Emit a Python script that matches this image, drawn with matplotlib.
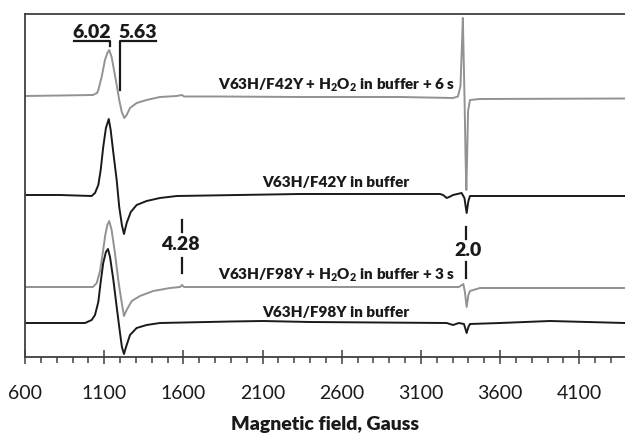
import matplotlib
matplotlib.use("Agg")
import matplotlib.pyplot as plt
from matplotlib.ticker import MultipleLocator

plt.rcParams["font.family"] = ["Lato", "DejaVu Sans"]
plt.rcParams["mathtext.fontset"] = "custom"
plt.rcParams["mathtext.rm"] = "Lato"
plt.rcParams["mathtext.bf"] = "Lato:heavy"

# field (Gauss) and signal above each trace's own baseline (arbitrary units)
f42y_h2o2_field = [600, 821, 1029, 1055, 1063, 1084, 1105, 1120, 1132, 1147, 1162, 1179, 1195,
                   1211, 1227, 1242, 1263, 1305, 1368, 1452, 1558, 1591, 1604, 1831, 2336, 2968,
                   3303, 3334, 3350, 3358, 3365, 3370, 3376, 3382, 3387, 3392, 3398, 3410, 3473, 4389]
f42y_h2o2_signal = [0, 0.5, 1, 3, 6, 19, 36, 43, 46, 39, 26, 11, -4,
                    -16, -22, -19, -12, -7, -4, -1, 0, 1, -0.5, -0.5, -1, -1,
                    -2, -0.5, 10, 45, 78, 40, -5, -60, -94, -60, -15, -4, -3, -2.5]

f42y_field = [600, 821, 1021, 1042, 1063, 1078, 1094, 1111, 1129, 1141, 1158, 1179, 1195,
              1212, 1225, 1242, 1268, 1305, 1368, 1452, 1558, 2336, 3221, 3240, 3263, 3285,
              3303, 3357, 3375, 3389, 3400, 3410, 4389]
f42y_signal = [0, 0, -1, 2, 10, 25, 48, 67, 76, 65, 42, 15, -12,
               -30, -39, -28, -17, -10, -6, -3, -1, 1, 1, 0, -3, -1.5,
               0, 2, -3, -18, -6, -1, -1]

f98y_h2o2_field = [600, 821, 1029, 1053, 1074, 1091, 1107, 1120, 1132, 1147, 1168, 1189, 1206,
                   1225, 1242, 1274, 1326, 1410, 1516, 1579, 1591, 1604, 2336, 3340, 3368, 3378,
                   3389, 3400, 3410, 3473, 4389]
f98y_h2o2_signal = [0, 0, 0, 4, 16, 34, 52, 62, 66, 57, 34, 7, -11,
                    -29, -23, -14, -9, -4, -1, 0, 2, 0, 0, 0, 3, -5,
                    -20, -8, -4, -1, -1]

f98y_field = [600, 821, 979, 1021, 1042, 1063, 1078, 1094, 1111, 1124, 1137, 1158, 1179,
              1200, 1212, 1225, 1238, 1263, 1305, 1368, 1452, 1900, 2100, 2400, 3263, 3303,
              3340, 3372, 3389, 3400, 3410, 3600, 3915, 4389]
f98y_signal = [0, 0, 0, 3, 8, 21, 41, 60, 71, 74, 66, 43, 16,
               -10, -24, -31, -24, -12, -5, -2, 0, 1.5, 2, 1, 0, -2,
               0, -1, -10, -4, -1, 0, 2, 0]

trace_offsets = [261, 162, 70, 34]
trace_colors = ["#929292", "#1a1a1a", "#929292", "#1a1a1a"]
trace_labels = [
    "V63H/F42Y + H$_\\mathbf{2}$O$_\\mathbf{2}$ in buffer + 6 s",
    "V63H/F42Y in buffer",
    "V63H/F98Y + H$_\\mathbf{2}$O$_\\mathbf{2}$ in buffer + 3 s",
    "V63H/F98Y in buffer",
]
label_y = [272, 175, 82, 44]
label_x = 2565

traces = [
    (f42y_h2o2_field, f42y_h2o2_signal),
    (f42y_field, f42y_signal),
    (f98y_h2o2_field, f98y_h2o2_signal),
    (f98y_field, f98y_signal),
]

fig = plt.figure(figsize=(6.25, 4.33), dpi=100)
ax = fig.add_axes([25 / 625, 76 / 433, 600 / 625, 343 / 433])

for (field, signal), offset, color in zip(traces, trace_offsets, trace_colors):
    ax.plot(field, [offset + s for s in signal], color=color, lw=1.4, solid_joinstyle="round")

for text, y in zip(trace_labels, label_y):
    ax.text(label_x, y, text, ha="center", va="center", fontsize=11, fontweight="heavy",
            color="#1a1a1a")

# g-value markers
ink = "#1a1a1a"
ax.plot([909, 1137, 1137], [316, 316, 311], color=ink, lw=1.6)
ax.plot([1200, 1200, 1427], [267, 316, 316], color=ink, lw=1.6)
ax.text(1023, 325, "6.02", ha="center", va="center", fontsize=14, fontweight="heavy", color=ink)
ax.text(1313, 325, "5.63", ha="center", va="center", fontsize=14, fontweight="heavy", color=ink)

ax.plot([1593, 1593], [125, 137], color=ink, lw=1.6)
ax.plot([1593, 1593], [84, 99], color=ink, lw=1.6)
ax.text(1580, 112, "4.28", ha="center", va="center", fontsize=14, fontweight="heavy", color=ink)

ax.plot([3385, 3385], [118, 130], color=ink, lw=1.6)
ax.plot([3385, 3385], [79, 95], color=ink, lw=1.6)
ax.text(3395, 107, "2.0", ha="center", va="center", fontsize=14, fontweight="heavy", color=ink)

ax.set_xlim(600, 4389)
ax.set_ylim(0, 343)
ax.set_yticks([])
ax.xaxis.set_major_locator(MultipleLocator(500))
ax.xaxis.set_minor_locator(MultipleLocator(100))
ax.set_xticks(range(600, 4101, 500))
ax.tick_params(axis="x", which="major", direction="inout", length=10, width=1.1,
               color="#404040", labelsize=14, pad=15, labelcolor="#1a1a1a")
ax.tick_params(axis="x", which="minor", direction="out", length=4, width=1.1, color="#404040")
for side in ("left", "bottom", "top"):
    ax.spines[side].set_color("#404040")
    ax.spines[side].set_linewidth(1.3)
ax.spines["right"].set_visible(False)

ax.set_xlabel("Magnetic field, Gauss", fontsize=14, fontweight="heavy", labelpad=10,
              color="#1a1a1a")

fig.savefig("out.png", dpi=100)
